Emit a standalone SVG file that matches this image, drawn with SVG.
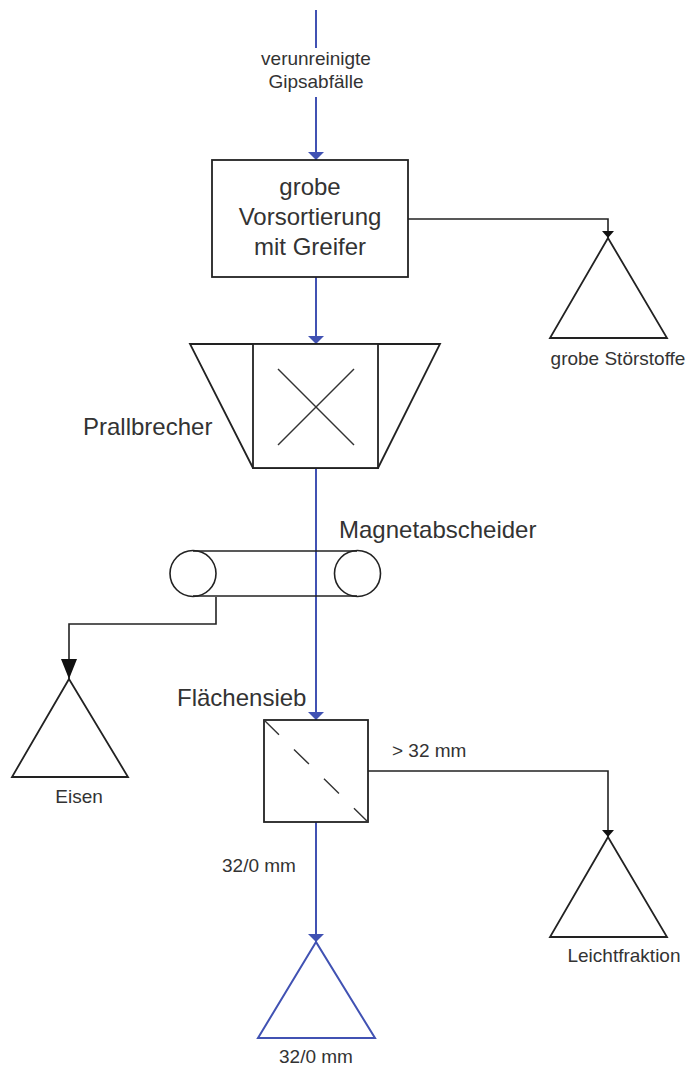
<svg xmlns="http://www.w3.org/2000/svg" width="689" height="1068" viewBox="0 0 689 1068">
  <style>
    .flow { fill: none; stroke: #4152b3; stroke-width: 2; }
    .link { fill: none; stroke: #222; stroke-width: 1.6; }
    .shape { fill: #fff; stroke: #222; stroke-width: 1.8; }
    .blueShape { fill: #fff; stroke: #4152b3; stroke-width: 2; }
    .thin { fill: none; stroke: #333; stroke-width: 1.4; }
    .big { font-family: "Liberation Sans", Arial, sans-serif; font-size: 24px; fill: #333; }
    .small { font-family: "Liberation Sans", Arial, sans-serif; font-size: 19px; fill: #333; }
    .mid { text-anchor: middle; }
  </style>
  <defs>
    <marker id="arrowBlue" markerUnits="userSpaceOnUse" viewBox="0 0 8 16" refX="8" refY="8" markerWidth="8" markerHeight="16" orient="auto">
      <path d="M0,0 L8,8 L0,16 z" fill="#4152b3"/>
    </marker>
    <marker id="arrowBlack" markerUnits="userSpaceOnUse" viewBox="0 0 7 12" refX="7" refY="6" markerWidth="7" markerHeight="12" orient="auto">
      <path d="M0,0 L7,6 L0,12 z" fill="#111"/>
    </marker>
    <marker id="arrowBlackBig" markerUnits="userSpaceOnUse" viewBox="0 0 20 16" refX="20" refY="8" markerWidth="20" markerHeight="16" orient="auto">
      <path d="M0,0 L20,8 L0,16 z" fill="#111"/>
    </marker>
  </defs>

  <!-- material flow and side streams -->
  <g id="connectors">
    <line class="flow" x1="316" y1="10" x2="316" y2="48"/>
    <line class="flow" x1="316" y1="97" x2="316" y2="160" marker-end="url(#arrowBlue)"/>
    <line class="flow" x1="316" y1="277" x2="316" y2="344" marker-end="url(#arrowBlue)"/>
    <line class="flow" x1="316" y1="468" x2="316" y2="720" marker-end="url(#arrowBlue)"/>
    <line class="flow" x1="316" y1="822" x2="316" y2="942" marker-end="url(#arrowBlue)"/>
    <polyline class="link" points="408,219 608,219 608,238" marker-end="url(#arrowBlack)"/>
    <polyline class="link" points="216,597 216,624 69,624 69,679" marker-end="url(#arrowBlackBig)"/>
    <polyline class="link" points="368,771 608,771 608,837" marker-end="url(#arrowBlack)"/>
  </g>

  <g id="input">
    <text class="small mid" x="316" y="65">verunreinigte</text>
    <text class="small mid" x="316" y="88">Gipsabfälle</text>
  </g>

  <g id="vorsortierung">
    <rect class="shape" x="212" y="160" width="196" height="117" stroke-width="2.2"/>
    <text class="big mid" x="310" y="195">grobe</text>
    <text class="big mid" x="310" y="225">Vorsortierung</text>
    <text class="big mid" x="310" y="255">mit Greifer</text>
  </g>

  <g id="stoerstoffe">
    <polygon class="shape" points="608,238 550,338 667,338"/>
    <text class="small mid" x="618" y="365">grobe Störstoffe</text>
  </g>

  <g id="prallbrecher">
    <polygon class="shape" points="190,344 440,344 378,468 253,468"/>
    <rect class="shape" x="253" y="344" width="125" height="124"/>
    <line class="thin" x1="278" y1="369" x2="354" y2="445"/>
    <line class="thin" x1="354" y1="369" x2="278" y2="445"/>
    <text class="big" x="83" y="435">Prallbrecher</text>
  </g>

  <g id="magnetabscheider">
    <line class="link" x1="193" y1="551" x2="357" y2="551"/>
    <line class="link" x1="193" y1="596" x2="357" y2="596"/>
    <circle class="link" cx="193" cy="573.5" r="23"/>
    <circle class="link" cx="357.5" cy="573.5" r="23"/>
    <text class="big" x="339" y="538">Magnetabscheider</text>
  </g>

  <g id="eisen">
    <polygon class="shape" points="69,679 12,777 128,777"/>
    <text class="small mid" x="79" y="803">Eisen</text>
  </g>

  <g id="flaechensieb">
    <rect class="shape" x="264" y="720" width="104" height="102" stroke-width="2.2"/>
    <line class="thin" x1="264" y1="720" x2="368" y2="822" stroke-dasharray="21 21"/>
    <text class="big" x="177" y="706">Flächensieb</text>
    <text class="small" x="392" y="757">&gt; 32 mm</text>
    <text class="small" x="222" y="872">32/0 mm</text>
  </g>

  <g id="leichtfraktion">
    <polygon class="shape" points="608,837 550,937 667,937"/>
    <text class="small mid" x="624" y="962">Leichtfraktion</text>
  </g>

  <g id="produkt">
    <polygon class="blueShape" points="316,942 258,1038 375,1038"/>
    <text class="small mid" x="316" y="1063">32/0 mm</text>
  </g>
</svg>
